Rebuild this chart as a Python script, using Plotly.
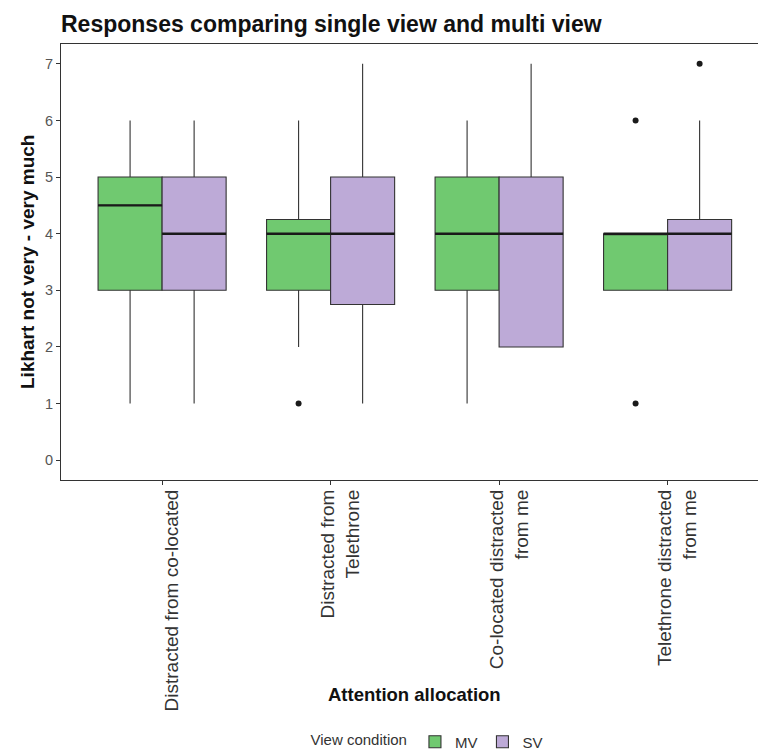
import plotly.graph_objects as go

# Attention-allocation questions (x categories)
categories = [
    "Distracted from co-located",
    "Distracted from<br>Telethrone",
    "Co-located distracted<br>from me",
    "Telethrone distracted<br>from me",
]

# Box statistics per view condition (Likert 1-7)
mv_low = [1, 2, 1, 3]
mv_q1 = [3, 3, 3, 3]
mv_median = [4.5, 4, 4, 4]
mv_q3 = [5, 4.25, 5, 4]
mv_high = [6, 6, 6, 4]
mv_outlier_cat = [1, 3, 3]
mv_outlier_val = [1, 6, 1]

sv_low = [1, 1, 2, 3]
sv_q1 = [3, 2.75, 2, 3]
sv_median = [4, 4, 4, 4]
sv_q3 = [5, 5, 5, 4.25]
sv_high = [6, 7, 7, 6]
sv_outlier_cat = [3]
sv_outlier_val = [7]

y_ticks = [0, 1, 2, 3, 4, 5, 6, 7]

MV_FILL = "#70c970"
SV_FILL = "#bdaad7"
EDGE = "#333333"
BOX_W = 0.38          # width of each dodged box (category units)
OFF = BOX_W / 2       # dodge offset from category centre

idx = list(range(len(categories)))
mv_x = [i - OFF for i in idx]
sv_x = [i + OFF for i in idx]

fig = go.Figure()

for name, xs, lo, q1, med, q3, hi, fill in [
    ("MV", mv_x, mv_low, mv_q1, mv_median, mv_q3, mv_high, MV_FILL),
    ("SV", sv_x, sv_low, sv_q1, sv_median, sv_q3, sv_high, SV_FILL),
]:
    fig.add_trace(go.Box(
        name=name, x=xs, q1=q1, median=med, q3=q3,
        lowerfence=lo, upperfence=hi, width=BOX_W,
        fillcolor=fill, line=dict(color=EDGE, width=1.1),
        whiskerwidth=0, boxpoints=False, hoverinfo="skip",
    ))

# thicker median bars drawn over each box
for xs, med in [(mv_x, mv_median), (sv_x, sv_median)]:
    lx, ly = [], []
    for x, m in zip(xs, med):
        lx += [x - OFF, x + OFF, None]
        ly += [m, m, None]
    fig.add_trace(go.Scatter(x=lx, y=ly, mode="lines",
                             line=dict(color="#1a1a1a", width=2.4),
                             showlegend=False, hoverinfo="skip"))

# outliers
fig.add_trace(go.Scatter(
    x=[c - OFF for c in mv_outlier_cat] + [c + OFF for c in sv_outlier_cat],
    y=mv_outlier_val + sv_outlier_val, mode="markers",
    marker=dict(color="#1a1a1a", size=6), showlegend=False, hoverinfo="skip"))

L, R, T, B = 61, 0, 44, 273
W, H = 758, 753
pw, ph = W - L - R, H - T - B

def px_x(p):
    return (p - L) / pw

def px_y(p):
    return (T + ph - p) / ph

fig.update_layout(
    width=W, height=H,
    margin=dict(l=L, r=R, t=T, b=B, autoexpand=False),
    paper_bgcolor="white", plot_bgcolor="white",
    font=dict(family="Liberation Sans, Arial, sans-serif", color="#333333"),
    boxmode="overlay",
    title=dict(text="<b>Responses comparing single view and multi view</b>",
               font=dict(size=23, color="#111111"),
               xref="paper", x=0.0, xanchor="left",
               yref="container", y=1 - 24 / H, yanchor="middle"),
    xaxis=dict(range=[-0.6, (W - L) / 168.5 - 0.6], tickvals=idx,
               ticktext=categories, tickangle=-90,
               tickfont=dict(size=19, color="#333333"),
               ticklabelshift=10, ticklabelstandoff=-3,
               ticks="outside", ticklen=4, tickcolor=EDGE,
               showline=True, mirror=True, linecolor=EDGE, linewidth=1.2,
               showgrid=False, zeroline=False, automargin=False),
    yaxis=dict(range=[-0.35, 7.35], tickvals=y_ticks,
               tickfont=dict(size=14.5, color="#555555"),
               ticks="outside", ticklen=4, tickcolor=EDGE,
               showline=True, linecolor=EDGE, linewidth=1.2,
               showgrid=False, zeroline=False, automargin=False),
    legend=dict(orientation="h", x=px_x(428), y=px_y(742),
                xanchor="center", yanchor="middle",
                title=dict(text="View condition", side="left",
                           font=dict(size=15, color="#333333")),
                font=dict(size=15, color="#333333"), itemwidth=30),
    annotations=[
        dict(text="<b>Attention allocation</b>", xref="paper", yref="paper",
             x=px_x(414), y=px_y(694), xanchor="center", yanchor="middle",
             showarrow=False, font=dict(size=18.5, color="#111111")),
        dict(text="<b>Likhart not very - very much</b>", xref="paper",
             yref="paper", x=px_x(27), y=0.5, xanchor="center",
             yanchor="middle", textangle=-90, showarrow=False,
             font=dict(size=19, color="#111111")),
    ],
)

fig.write_html("out.html")
